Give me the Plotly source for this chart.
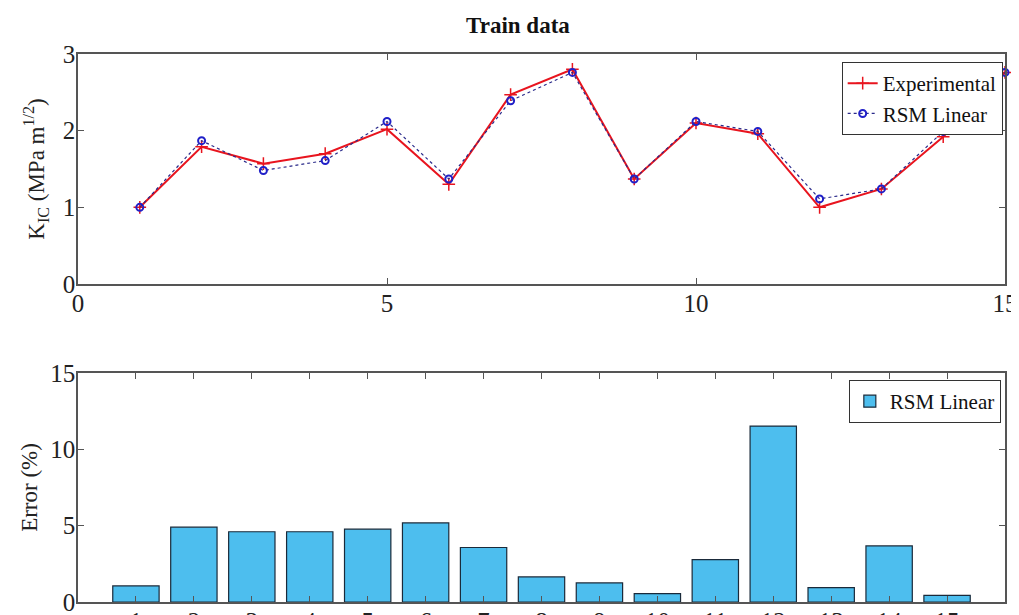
import plotly.graph_objects as go

samples = list(range(1, 16))
experimental = [1.00, 1.79, 1.57, 1.70, 2.02, 1.30, 2.47, 2.80, 1.37, 2.10, 1.96, 1.00, 1.24, 1.92, 2.76]
rsm_linear = [1.00, 1.87, 1.48, 1.61, 2.12, 1.37, 2.39, 2.76, 1.37, 2.12, 1.99, 1.11, 1.24, 1.99, 2.76]
error_pct = [1.05, 4.9, 4.6, 4.6, 4.77, 5.18, 3.57, 1.64, 1.25, 0.55, 2.78, 11.52, 0.94, 3.67, 0.44]

FONT = "Liberation Serif"
AX = "#555555"

fig = go.Figure()
fig.add_trace(go.Scatter(
    x=samples, y=experimental, name="Experimental", mode="lines+markers",
    line=dict(color="#e8141e", width=2),
    marker=dict(symbol="cross-thin", size=9, line=dict(color="#e8141e", width=1.5)),
    xaxis="x", yaxis="y", legend="legend", cliponaxis=False))
fig.add_trace(go.Scatter(
    x=samples, y=rsm_linear, name="RSM Linear", mode="lines+markers",
    line=dict(color="#2a2a8a", width=1.2, dash="dot"),
    marker=dict(symbol="circle-open", size=7, color="#2020c8", line=dict(width=2)),
    xaxis="x", yaxis="y", legend="legend", cliponaxis=False))
fig.add_trace(go.Bar(
    x=samples, y=error_pct, name="RSM Linear", width=0.8,
    marker=dict(color="#4DBEEE", line=dict(color="#1a2a3a", width=1.2)),
    xaxis="x2", yaxis="y2", legend="legend2"))

axcommon = dict(showline=True, linecolor=AX, linewidth=1.5, mirror="ticks",
                ticks="inside", ticklen=6, tickcolor=AX, showgrid=False, zeroline=False,
                automargin=False, ticklabelstandoff=-4,
                tickfont=dict(family=FONT, size=25, color="#222"))

# the page body adds an 8px offset, so margins are set 8px smaller on left/top
fig.update_layout(
    width=1019, height=615,
    margin=dict(l=70, r=22, t=46, b=21, autoexpand=False),
    paper_bgcolor="white", plot_bgcolor="white",
    font=dict(family=FONT, color="#222"),
    title=dict(text="<b>Train data</b>", x=0.4746, xref="paper", y=1 - 17 / 615, yref="container",
               yanchor="middle", xanchor="center",
               font=dict(family=FONT, size=23, color="#111"), automargin=False),
    xaxis=dict(domain=[0, 1], range=[0, 15], tickvals=[0, 5, 10, 15], anchor="y", **axcommon),
    yaxis=dict(domain=[0.5803, 1.0], range=[0, 3], tickvals=[0, 1, 2, 3], anchor="x",
               title=dict(text="K<sub>IC</sub> (MPa m<sup>1/2</sup>)", font=dict(family=FONT, size=23), standoff=12),
               **axcommon),
    xaxis2=dict(domain=[0, 1], range=[0, 16], tickvals=samples, anchor="y2", **axcommon),
    yaxis2=dict(domain=[0, 0.4179], range=[0, 15], tickvals=[0, 5, 10, 15], anchor="x2",
                title=dict(text="Error (%)", font=dict(family=FONT, size=23), standoff=6),
                **axcommon),
    legend=dict(x=0.9975, y=0.9854, xanchor="right", yanchor="top",
                bgcolor="white", bordercolor="#333", borderwidth=1,
                font=dict(family=FONT, size=21, color="#111"), tracegroupgap=0,
                itemwidth=30),
    legend2=dict(x=0.9955, y=0.405, xanchor="right", yanchor="top",
                 bgcolor="white", bordercolor="#333", borderwidth=1,
                 font=dict(family=FONT, size=21, color="#111"), itemwidth=30),
    showlegend=True,
)

fig.write_html("out.html")
